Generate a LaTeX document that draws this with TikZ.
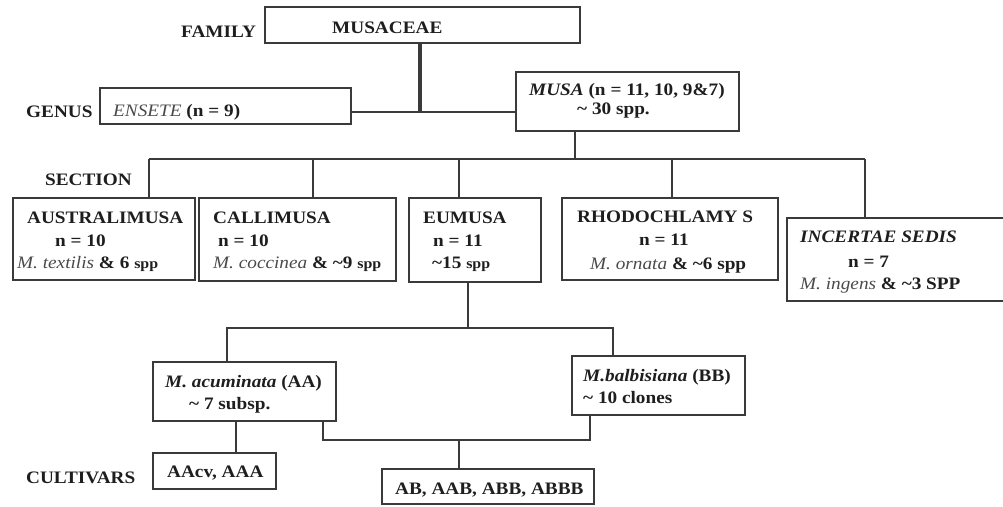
\documentclass[tikz,border=0pt]{standalone}
\usepackage{fontspec}
\setmainfont[FakeStretch=1.1]{Liberation Serif}
\usetikzlibrary{fit}
\definecolor{linec}{HTML}{3A3A3A}
\definecolor{txt}{HTML}{1E1E1E}
\definecolor{itc}{HTML}{4A4A4A}
\newcommand{\tl}{\textasciitilde}
\newcommand{\ri}[1]{{\mdseries\itshape\color{itc}#1}}
\newcommand{\sm}[1]{{\fontsize{14.5}{16}\selectfont #1}}
\tikzset{
  box/.style={draw=linec, line width=1.2pt, inner sep=0pt},
  lbl/.style={anchor=base west, inner sep=0pt, font=\fontsize{17.5}{20}\selectfont\bfseries, text=txt},
  conn/.style={draw=linec, line width=1.2pt},
  thickconn/.style={draw=linec, line width=3.5pt}
}
\begin{document}
\begin{tikzpicture}[x=1pt,y=-1pt]
\useasboundingbox (0,0) rectangle (1003,506);
% boxes
\node[box, fit={(265,7) (580,43)}] (musaceae) {};
\node[box, fit={(100,88) (351,124)}] (ensete) {};
\node[box, fit={(516,72) (739,131)}] (musa) {};
\node[box, fit={(13,198) (195,280)}] (austr) {};
\node[box, fit={(199,198) (396,281)}] (calli) {};
\node[box, fit={(409,198) (541,282)}] (eumusa) {};
\node[box, fit={(562,198) (778,280)}] (rhodo) {};
\node[box, fit={(787,218) (1012,301)}] (incert) {};
\node[box, fit={(153,362) (336,421)}] (acum) {};
\node[box, fit={(572,356) (745,415)}] (balb) {};
\node[box, fit={(153,453) (276,489)}] (aacv) {};
\node[box, fit={(382,469) (594,504)}] (abbb) {};
% texts
\node[lbl] (tfam) at (181,37) {FAMILY};
\node[lbl] (tmusaceae) at (332,33) {MUSACEAE};
\node[lbl] (tgenus) at (26,117) {GENUS};
\node[lbl] (tensete) at (113,116) {\ri{ENSETE} (n = 9)};
\node[lbl] (tmusa1) at (529,95) {\textit{MUSA} (n = 11, 10, 9\&7)};
\node[lbl] (tmusa2) at (577,114) {\tl{} 30 spp.};
\node[lbl] (tsection) at (45,185) {SECTION};
\node[lbl] (ta1) at (27,223) {AUSTRALIMUSA};
\node[lbl] (ta2) at (55,246) {n = 10};
\node[lbl] (ta3) at (17,268) {\ri{M. textilis} \& 6 \sm{spp}};
\node[lbl] (tc1) at (213,223) {CALLIMUSA};
\node[lbl] (tc2) at (218,246) {n = 10};
\node[lbl] (tc3) at (213,268) {\ri{M. coccinea} \& \tl9 \sm{spp}};
\node[lbl] (te1) at (423,223) {EUMUSA};
\node[lbl] (te2) at (433,246) {n = 11};
\node[lbl] (te3) at (432,268) {\tl15 \sm{spp}};
\node[lbl] (tr1) at (577,222) {RHODOCHLAMY S};
\node[lbl] (tr2) at (639,245) {n = 11};
\node[lbl] (tr3) at (590,269) {\ri{M. ornata} \& \tl6 spp};
\node[lbl] (ti1) at (800,242) {\textit{INCERTAE SEDIS}};
\node[lbl] (ti2) at (848,267) {n = 7};
\node[lbl] (ti3) at (800,289) {\ri{M. ingens} \& \tl3 SPP};
\node[lbl] (tac1) at (165,387) {\textit{M. acuminata} (AA)};
\node[lbl] (tac2) at (189,409) {\tl{} 7 subsp.};
\node[lbl] (tb1) at (583,381) {\textit{M.balbisiana} (BB)};
\node[lbl] (tb2) at (583,403) {\tl{} 10 clones};
\node[lbl] (tcult) at (26,483) {CULTIVARS};
\node[lbl] (taacv) at (167,477) {AAcv, AAA};
\node[lbl] (tabbb) at (395,494) {AB, AAB, ABB, ABBB};
% junctions
\coordinate (jg) at (420,112);
\coordinate (js) at (575,159);
\coordinate (jsl) at (149,159);
\coordinate (jsr) at (865,159);
\coordinate (jc) at (313,159);
\coordinate (je) at (459,159);
\coordinate (jr) at (672,159);
\coordinate (jm) at (468,328);
\coordinate (jml) at (227,328);
\coordinate (jmr) at (613,328);
\coordinate (jx) at (236,421);
\coordinate (jh1) at (323,440);
\coordinate (jh2) at (590,440);
\coordinate (jh) at (459,440);
% connectors
\draw[thickconn] (jg |- musaceae.south) -- (jg);
\draw[conn] (ensete.east |- jg) -- (musa.west |- jg);
\draw[conn] (js |- musa.south) -- (js);
\draw[conn] (jsl) -- (jsr);
\draw[conn] (jsl) -- (jsl |- austr.north);
\draw[conn] (jc) -- (jc |- calli.north);
\draw[conn] (je) -- (je |- eumusa.north);
\draw[conn] (jr) -- (jr |- rhodo.north);
\draw[conn] (jsr) -- (jsr |- incert.north);
\draw[conn] (jm |- eumusa.south) -- (jm);
\draw[conn] (jml |- acum.north) -- (jml) -- (jmr) -- (jmr |- balb.north);
\draw[conn] (jx |- acum.south) -- (jx |- aacv.north);
\draw[conn] (jh1 |- acum.south) -- (jh1) -- (jh2) -- (jh2 |- balb.south);
\draw[conn] (jh) -- (jh |- abbb.north);
\end{tikzpicture}
\end{document}
